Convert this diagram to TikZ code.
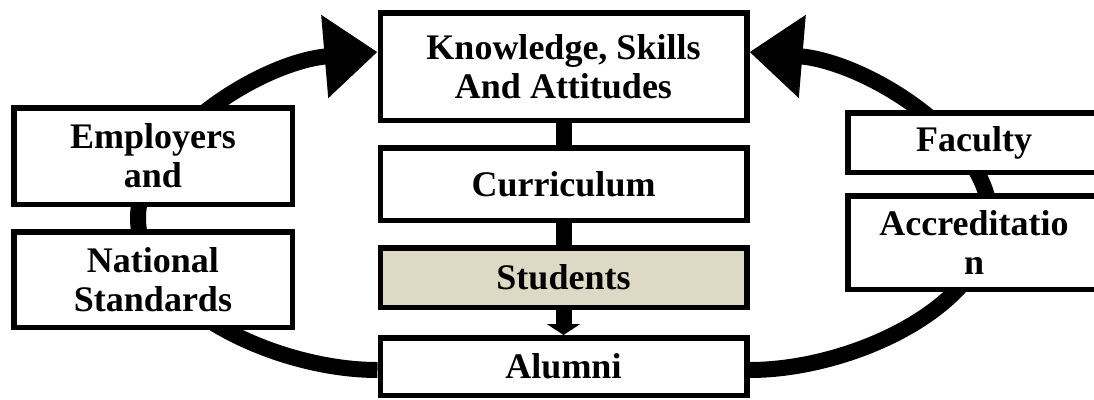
\documentclass[tikz,border=0pt]{standalone}
\usepackage{fontspec}
\setmainfont{Liberation Serif}
\usetikzlibrary{arrows.meta,backgrounds}
\definecolor{studfill}{HTML}{DDD9C4}
\begin{document}
\begin{tikzpicture}[
        x=1pt, y=-1pt,
        every node/.style={draw, line width=5.5pt, fill=white, align=center,
            font=\fontsize{36}{39}\selectfont\bfseries, inner sep=0pt},
        wide/.style={minimum width=366.5pt},
        side/.style={minimum width=278.5pt},
        rside/.style={minimum width=252.5pt},
        ring/.style={draw, line width=16pt, -{Triangle[length=53pt,width=80pt]}},
        bar/.style={draw, line width=16pt},
    ]
    \useasboundingbox (0,0) rectangle (1094,399);
    \clip (0,0) rectangle (1094,399);

    \node[wide, minimum height=107.5pt](ksa) at (563.5,66.5){Knowledge, Skills\\And Attitudes};
    \node[wide, minimum height=72.5pt](curr) at (563.5,184){Curriculum};
    \node[wide, minimum height=59.5pt, fill=studfill](stud) at (563.5,277.5){Students};
    \node[wide, minimum height=57.5pt](alum) at (563.5,366.5){Alumni};
    \node[side, minimum height=96.5pt](emp) at (153,156){Employers\\and};
    \node[side, minimum height=95.5pt](ns) at (153,279.5){National\\Standards};
    \node[rside, minimum height=59.5pt](fac) at (974,142.5){Faculty};
    \node[rside, minimum height=93.5pt](accr) at (974,242.5){Accreditatio\\n};

    \draw[bar] (ksa) -- (curr);
    \draw[bar] (curr) -- (stud);
    \draw[bar, -{Triangle[length=11pt,width=33pt]}] (stud) -- (alum);

    \begin{scope}[on background layer]
        \draw[ring] ([yshift=-3.5pt]alum.west) .. controls (275,370) and (138,305) .. (138,218)
            .. controls (138,140) and (260,62) .. ([yshift=14.5pt]ksa.west);
        \draw[ring] ([yshift=-3.5pt]alum.east) .. controls (853,370) and (990,305) .. (990,218)
            .. controls (990,140) and (868,62) .. ([yshift=14.5pt]ksa.east);
    \end{scope}

\end{tikzpicture}
\end{document}
